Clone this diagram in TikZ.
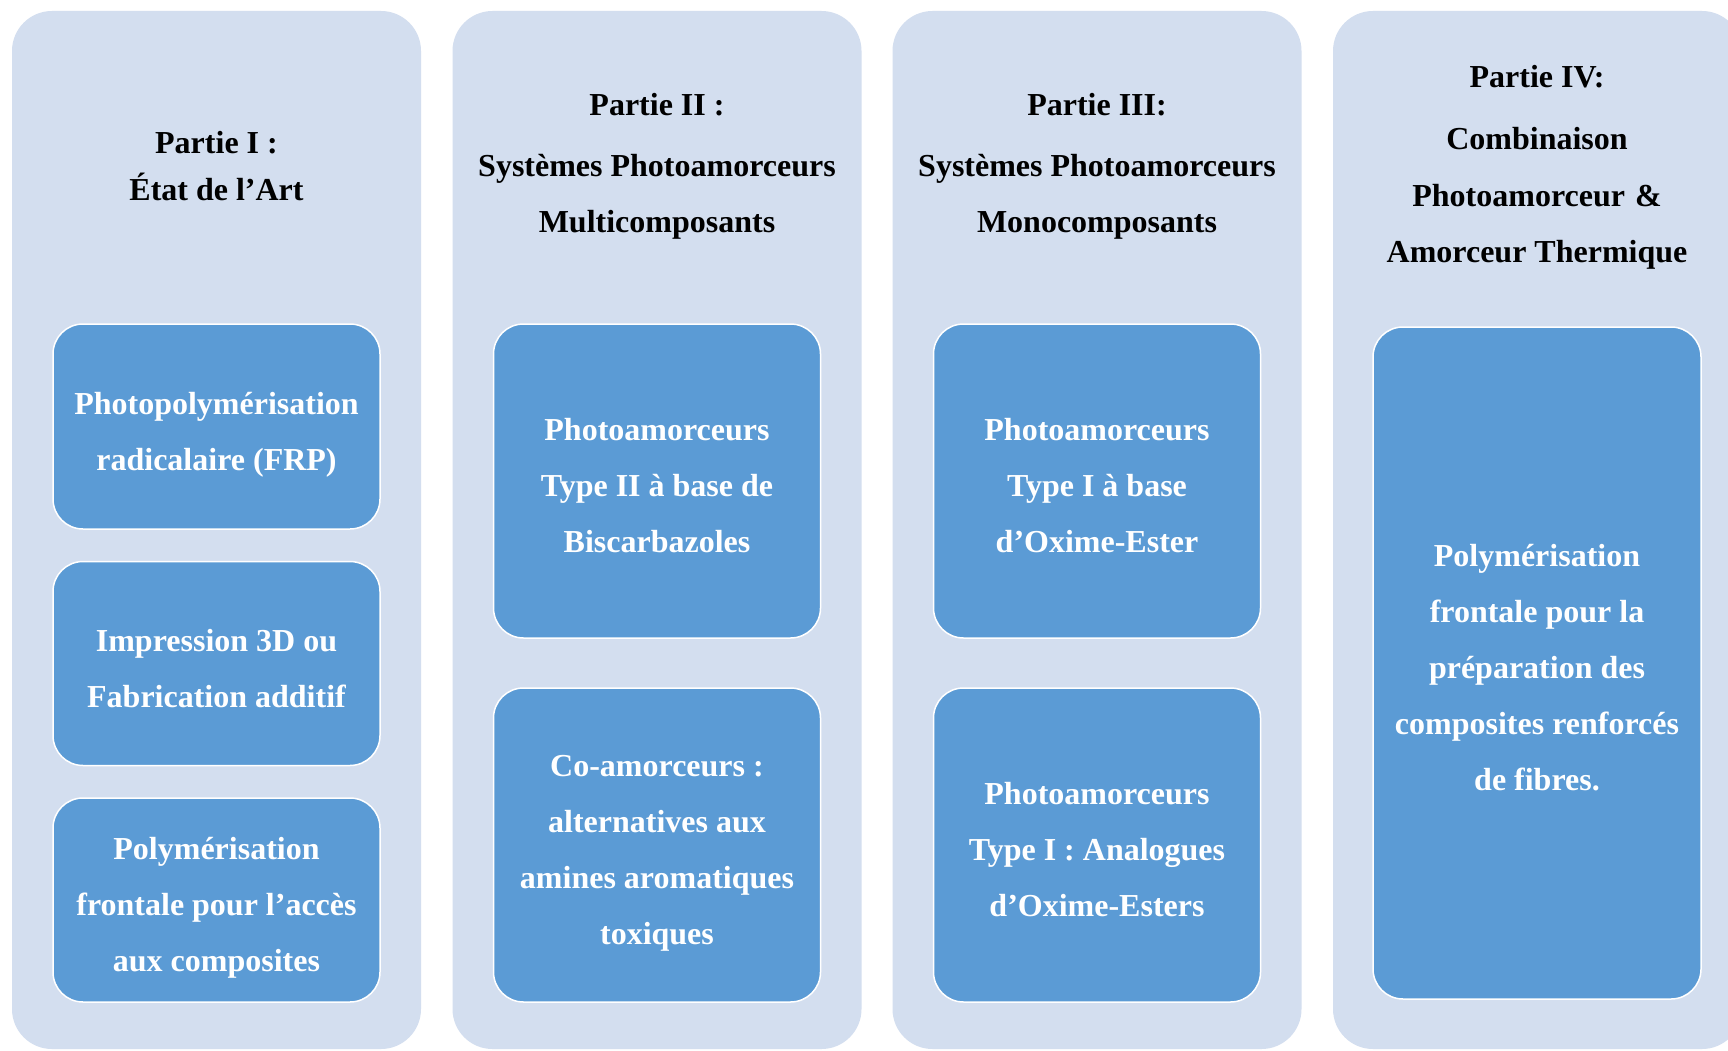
\documentclass[tikz,border=0pt]{standalone}
\usepackage{fontspec}
\setmainfont{Liberation Serif}
\definecolor{colbg}{RGB}{211,222,239}
\definecolor{boxbg}{RGB}{91,155,213}
\tikzset{
  colbox/.style={rectangle, rounded corners=40pt, fill=colbg, minimum width=409pt, minimum height=1038pt, inner sep=0pt},
  itembox/.style={rectangle, rounded corners=30pt, fill=boxbg, draw=white, line width=1.5pt, minimum width=327pt, inner sep=0pt},
  boxtext/.style={align=center, inner sep=0pt, text=white, font=\bfseries\fontsize{32}{56}\selectfont},
  titletext/.style={align=center, inner sep=0pt, text=black, font=\bfseries\fontsize{32}{56}\selectfont},
}
\begin{document}
\begin{tikzpicture}[x=1pt, y=-1pt]
\useasboundingbox (0,0) rectangle (1728,1051);
\fill[white] (0,0) rectangle (1728,1051);
\clip (0,0) rectangle (1728,1051);
% columns
\node[colbox] (c1) at (216.5,530) {};
\node[colbox] (c2) at (657,530) {};
\node[colbox] (c3) at (1097,530) {};
\node[colbox] (c4) at (1537.5,530) {};
% titles
\node[titletext, font=\bfseries\fontsize{32}{47}\selectfont] (t1) at (216.5,166.5) {Partie I :\\État de l’Art};
\node[titletext] (t2) at (657,166.5) {Partie II :\\[5pt]Systèmes Photoamorceurs\\Multicomposants};
\node[titletext] (t3) at (1097,166.5) {Partie III:\\[5pt]Systèmes Photoamorceurs\\Monocomposants};
\node[titletext] (t4) at (1537,167.5) {Partie IV:\\[6pt]Combinaison\\[1pt]Photoamorceur\hspace{10pt}\&\\Amorceur Thermique};
% column 1 boxes
\node[itembox, minimum height=205pt] (b11) at (216.5,426.5) {};
\node[boxtext, yshift=-8pt] (b11t) at (b11) {Photopolymérisation\\radicalaire (FRP)};
\node[itembox, minimum height=204pt] (b12) at (216.5,663.5) {};
\node[boxtext, yshift=-5pt] (b12t) at (b12) {Impression 3D ou\\Fabrication additif};
\node[itembox, minimum height=204pt] (b13) at (216.5,900) {};
\node[boxtext, yshift=-8pt] (b13t) at (b13) {Polymérisation\\frontale pour l’accès\\aux composites};
% column 2 boxes
\node[itembox, minimum height=314pt] (b21) at (657,481) {};
\node[boxtext, yshift=-5pt] (b21t) at (b21) {Photoamorceurs\\Type II à base de\\Biscarbazoles};
\node[itembox, minimum height=314pt] (b22) at (657,845) {};
\node[boxtext, yshift=-8pt] (b22t) at (b22) {Co-amorceurs :\\alternatives aux\\amines aromatiques\\toxiques};
% column 3 boxes
\node[itembox, minimum height=314pt] (b31) at (1097,481) {};
\node[boxtext, yshift=-5pt] (b31t) at (b31) {Photoamorceurs\\Type I à base\\d’Oxime-Ester};
\node[itembox, minimum height=314pt] (b32) at (1097,845) {};
\node[boxtext, yshift=-5pt] (b32t) at (b32) {Photoamorceurs\\Type I : Analogues\\d’Oxime-Esters};
% column 4 box
\node[itembox, minimum height=672pt, minimum width=328pt] (b41) at (1537,663) {};
\node[boxtext, yshift=-5pt] (b41t) at (b41) {Polymérisation\\frontale pour la\\préparation des\\composites renforcés\\de fibres.};
\end{tikzpicture}
\end{document}
